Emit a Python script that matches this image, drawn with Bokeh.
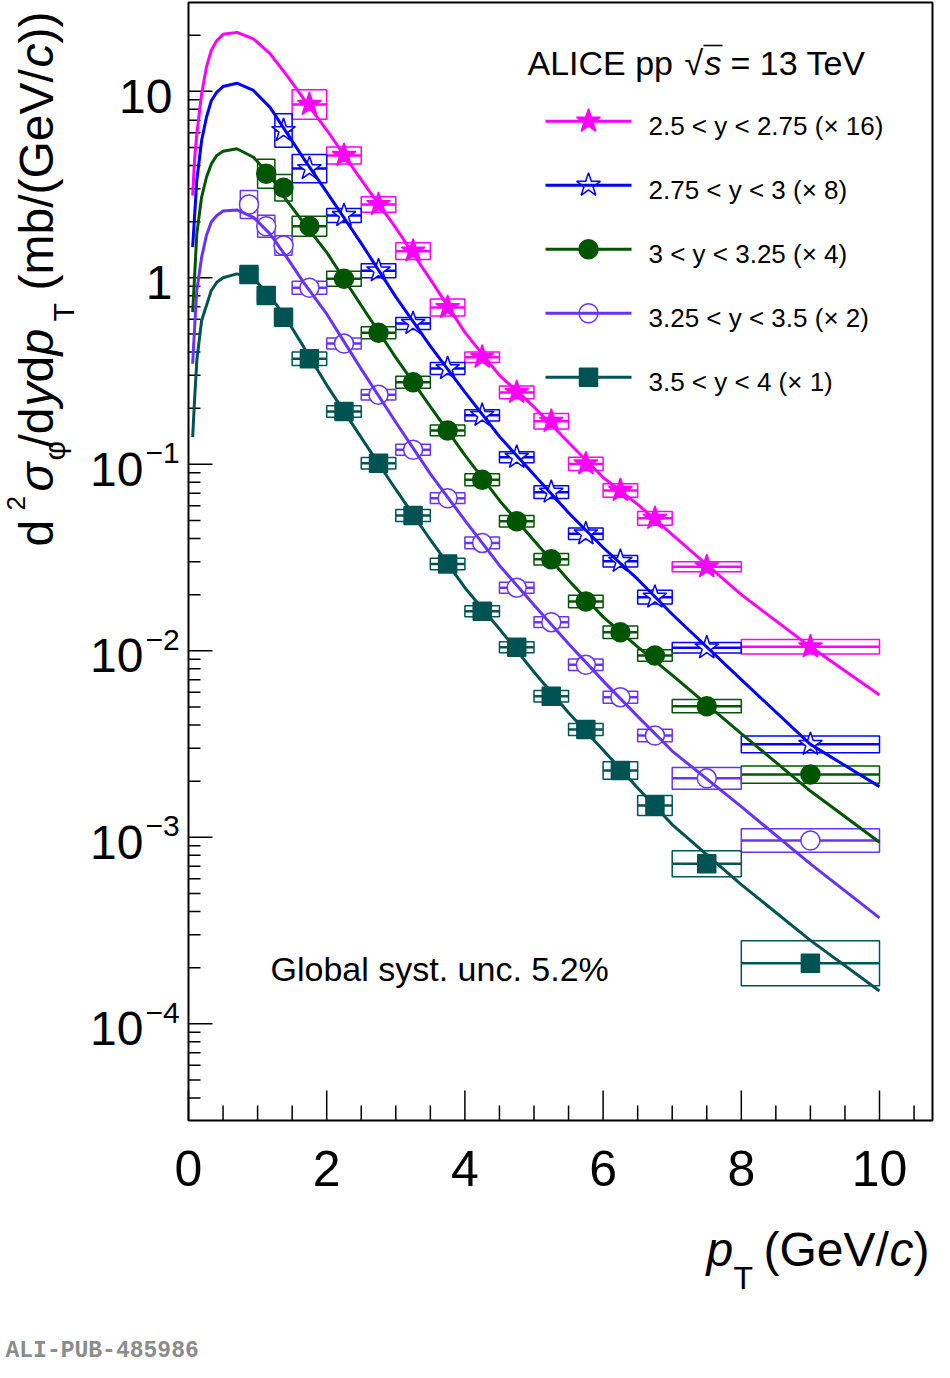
from bokeh.plotting import figure
from bokeh.models import Label
from bokeh.embed import file_html
from bokeh.resources import INLINE
import math

# pT bin edges shared by all rapidity intervals (GeV/c)
edges = [0.75, 1.0, 1.25, 1.5, 2.0, 2.5, 3.0, 3.5, 4.0, 4.5, 5.0, 5.5, 6.0, 6.5, 7.0, 8.0, 10.0]

# d2sigma/dydpT as drawn (scale factor already applied), mb/(GeV/c)
y1_vals = [8.5, 4.53, 2.47, 1.39, 0.693, 0.375, 0.243, 0.170, 0.1005, 0.0724, 0.0513, 0.0282, 0.0105]
y2_vals = [6.16, 3.85, 2.16, 1.09, 0.569, 0.326, 0.183, 0.109, 0.0709, 0.0424, 0.0302, 0.0194, 0.01038, 0.00315]
y3_vals = [3.61, 3.04, 1.89, 0.988, 0.507, 0.275, 0.152, 0.0826, 0.0495, 0.0310, 0.01837, 0.01258, 0.00944,
           0.00505, 0.00217]
y4_vals = [2.47, 1.89, 1.49, 0.884, 0.444, 0.236, 0.1197, 0.0658, 0.0379, 0.0218, 0.01424, 0.00841, 0.00564,
           0.00351, 0.00207, 0.000961]
y5_vals = [1.04, 0.804, 0.615, 0.368, 0.192, 0.1013, 0.0531, 0.0292, 0.0163, 0.01045, 0.00571, 0.00379, 0.00228,
           0.00148, 0.000721, 0.000211]

# relative systematic uncertainty (boxes)
y1_sys = [0.20, 0.11, 0.10, 0.11, 0.11, 0.068, 0.081, 0.10, 0.086, 0.086, 0.09, 0.064, 0.094]
y2_sys = [0.23, 0.19, 0.09, 0.09, 0.077, 0.077, 0.073, 0.07, 0.081, 0.074, 0.074, 0.09, 0.068, 0.108]
y3_sys = [0.196, 0.178, 0.131, 0.097, 0.077, 0.077, 0.07, 0.077, 0.073, 0.074, 0.08, 0.081, 0.074, 0.086, 0.113]
y4_sys = [0.189, 0.146, 0.127, 0.083, 0.07, 0.068, 0.07, 0.068, 0.074, 0.07, 0.068, 0.074, 0.077, 0.08, 0.143,
          0.156]
y5_sys = [0.077, 0.077, 0.077, 0.086, 0.074, 0.074, 0.077, 0.074, 0.07, 0.07, 0.074, 0.077, 0.115, 0.131, 0.174,
          0.32]

# fit curves
fit_pt = [0.06, 0.09, 0.12, 0.19, 0.26, 0.33, 0.41, 0.5, 0.7, 0.94, 1.18, 1.42, 1.66, 2, 2.5, 3, 3.5, 4, 4.5,
          5, 5.5, 6, 6.5, 7, 8, 9, 10]
y1_fit = [2.76, 4.43, 5.9, 9.7, 13.5, 16.6, 18.7, 20.2, 20.7, 19.1, 15.9, 12.2, 9.2, 6.2, 3.35, 1.85, 0.98,
          0.51, 0.30, 0.203, 0.131, 0.085, 0.061, 0.042, 0.020, 0.0105, 0.0058]
y2_fit = [1.46, 2.2, 3.32, 5.45, 7.26, 8.9, 9.9, 10.6, 11.05, 10.1, 8.2, 6.0, 4.4, 2.88, 1.53, 0.79, 0.43,
          0.244, 0.141, 0.088, 0.055, 0.0358, 0.0242, 0.0157, 0.0070, 0.00315, 0.00187]
y3_fit = [0.654, 1.05, 1.72, 2.71, 3.46, 4.08, 4.53, 4.77, 4.92, 4.43, 3.54, 2.6, 1.99, 1.37, 0.71, 0.373,
          0.204, 0.112, 0.064, 0.039, 0.0239, 0.0152, 0.0105, 0.0074, 0.0036, 0.00177, 0.00094]
y4_fit = [0.346, 0.555, 0.855, 1.29, 1.69, 1.99, 2.16, 2.28, 2.31, 2.11, 1.72, 1.29, 0.95, 0.64, 0.324, 0.168,
          0.0888, 0.050, 0.0287, 0.0176, 0.0109, 0.0069, 0.00445, 0.0029, 0.00146, 0.00072, 0.00037]
y5_fit = [0.14, 0.229, 0.36, 0.59, 0.71, 0.855, 0.947, 1.0, 1.05, 0.99, 0.80, 0.60, 0.43, 0.266, 0.139, 0.0733,
          0.0394, 0.0218, 0.0131, 0.0077, 0.00465, 0.00294, 0.00184, 0.00117, 0.000558, 0.00028, 0.000150]

labels = ["2.5 < y < 2.75 (\u00d7 16)", "2.75 < y < 3 (\u00d7 8)", "3 < y < 3.25 (\u00d7 4)",
          "3.25 < y < 3.5 (\u00d7 2)", "3.5 < y < 4 (\u00d7 1)"]
first_bin = [3, 2, 1, 0, 0]

# axis ticks
x_major = [0, 2, 4, 6, 8, 10]
x_minor = [0.5, 1, 1.5, 2.5, 3, 3.5, 4.5, 5, 5.5, 6.5, 7, 7.5, 8.5, 9, 9.5, 10.5]
y_major = [1e-4, 1e-3, 1e-2, 1e-1, 1, 10]
y_minor = [m * 10.0 ** e for e in range(-5, 2) for m in range(2, 10) if 4e-5 <= m * 10.0 ** e <= 25]

series = [
    (y1_vals, y1_sys, y1_fit, "#ff00ff", "star", True, 25),
    (y2_vals, y2_sys, y2_fit, "#0000ff", "star", False, 25),
    (y3_vals, y3_sys, y3_fit, "#005500", "circle", True, 19),
    (y4_vals, y4_sys, y4_fit, "#6633ff", "circle", False, 19),
    (y5_vals, y5_sys, y5_fit, "#005353", "square", True, 18),
]

FONT = "Liberation Sans"
W, H = 934, 1362
PX_X, X0 = 69.1, 188       # px per GeV/c, pixel of pT = 0
PX_DEC, Y1 = 186.5, 277.3  # px per decade, pixel of 1 mb/(GeV/c)


def X(px):
    return (px - X0) / PX_X


def Y(py):
    return 10 ** ((Y1 - py) / PX_DEC)


x_lo, x_hi = 0, X(932)
y_lo, y_hi = Y(1120), Y(2)

# the frame covers the whole canvas; the ROOT-like axes are drawn inside it
p = figure(width=W, height=H, x_range=(X(0), X(W)), y_range=(Y(H), Y(0)), y_axis_type="log",
           x_axis_location=None, y_axis_location=None, output_backend="svg", toolbar_location=None,
           min_border=0)
p.xgrid.visible = False
p.ygrid.visible = False
p.outline_line_color = None
p.background_fill_color = "white"
p.border_fill_color = "white"


def lab(text, px, py, size, italic=False, align="left", angle=0, color="black", font=FONT, bold=False):
    # (px, py): left/centre/right edge and vertical middle of the text, in pixels
    style = "italic" if italic else ("bold" if bold else "normal")
    p.add_layout(Label(x=X(px), y=Y(py), text=text, text_font=font, text_font_size=f"{size}px",
                       text_font_style=style, text_align=align, text_baseline="middle",
                       angle=angle, text_color=color))


# frame and ticks
p.quad(left=[x_lo], right=[x_hi], bottom=[y_lo], top=[y_hi], fill_color=None, line_color="black",
       line_width=2)
up30, up15 = 10 ** (30 / PX_DEC), 10 ** (15 / PX_DEC)
p.segment(x0=x_major, y0=[y_lo] * len(x_major), x1=x_major, y1=[y_lo * up30] * len(x_major),
          line_color="black", line_width=1.5)
p.segment(x0=x_minor, y0=[y_lo] * len(x_minor), x1=x_minor, y1=[y_lo * up15] * len(x_minor),
          line_color="black", line_width=1.5)
p.segment(x0=[0] * len(y_major), y0=y_major, x1=[24 / PX_X] * len(y_major), y1=y_major,
          line_color="black", line_width=1.5)
p.segment(x0=[0] * len(y_minor), y0=y_minor, x1=[12 / PX_X] * len(y_minor), y1=y_minor,
          line_color="black", line_width=1.5)

# data: boxes, bin-width bars, markers, fits
for k, (vals, sys, fit, c, mk, filled, sz) in enumerate(series):
    lo = edges[first_bin[k]:first_bin[k] + len(vals)]
    hi = edges[first_bin[k] + 1:first_bin[k] + 1 + len(vals)]
    p.quad(left=lo, right=hi, bottom=[v / (1 + s) for v, s in zip(vals, sys)],
           top=[v * (1 + s) for v, s in zip(vals, sys)], fill_color=None, line_color=c, line_width=1.5)
    p.segment(x0=lo, y0=vals, x1=hi, y1=vals, line_color=c, line_width=2.5)
for k, (vals, sys, fit, c, mk, filled, sz) in enumerate(series):
    lo = edges[first_bin[k]:first_bin[k] + len(vals)]
    hi = edges[first_bin[k] + 1:first_bin[k] + 1 + len(vals)]
    ctr = [(a + b) / 2 for a, b in zip(lo, hi)]
    p.scatter(ctr, vals, marker=mk, size=sz, fill_color=c if filled else "white", line_color=c,
              line_width=1.5)
for k, (vals, sys, fit, c, mk, filled, sz) in enumerate(series):
    p.line(fit_pt, fit, line_color=c, line_width=3)

# legend
for k, (vals, sys, fit, c, mk, filled, sz) in enumerate(series):
    ly = 120.7 + 64 * k
    p.line([X(545), X(631)], [Y(ly), Y(ly)], line_color=c, line_width=3)
    p.scatter([X(588)], [Y(ly)], marker=mk, size=sz, fill_color=c if filled else None, line_color=c,
              line_width=1.5)
    lab(labels[k], 648, ly + 5, 26)

lab("ALICE pp", 527, 62, 34)
lab("\u221a", 684, 62, 34)
p.line([X(703), X(722)], [Y(45), Y(45)], line_color="black", line_width=1.5)
lab("s", 704, 62, 34, italic=True)
lab("= 13 TeV", 730, 62, 34)
lab("Global syst. unc. 5.2%", 270, 968, 34)

# tick labels
for t in x_major:
    lab(str(t), X0 + PX_X * t, 1168, 50, align="center")
for t in y_major:
    e = round(math.log10(t))
    ty = Y1 - PX_DEC * e
    if e >= 0:
        lab(str(int(t)), 172, ty + 5, 48, align="right")
    else:
        lab("10", 143, ty + 5, 48, align="right")
        lab("\u2212" + str(-e), 145, ty - 11, 30)

# x title
lab("p", 706, 1249, 48, italic=True)
lab("T", 733, 1277, 32)
lab("(GeV/", 763, 1249, 48)
lab("c", 889, 1249, 48, italic=True)
lab(")", 913, 1249, 48)

# y title, rotated
r = math.pi / 2
lab("d", 36, 546, 48, angle=r)
lab("2", 15, 510, 26, angle=r)
lab("\u03c3", 36, 491, 48, angle=r, italic=True)
lab("\u03c6", 54, 460, 30, angle=r)
lab("/d", 36, 447, 48, angle=r)
lab("y", 36, 406, 48, angle=r, italic=True)
lab("d", 36, 382, 48, angle=r)
lab("p", 36, 355, 48, angle=r, italic=True)
lab("T", 63, 321, 30, angle=r)
lab("(mb/(GeV/", 36, 290, 48, angle=r)
lab("c", 36, 67, 48, angle=r, italic=True)
lab("))", 36, 43, 48, angle=r)

lab("ALI-PUB-485986", 5, 1350, 23, color="#8c8c8c", font="Liberation Mono", bold=True)

open("out.html", "w").write(file_html(p, INLINE))
